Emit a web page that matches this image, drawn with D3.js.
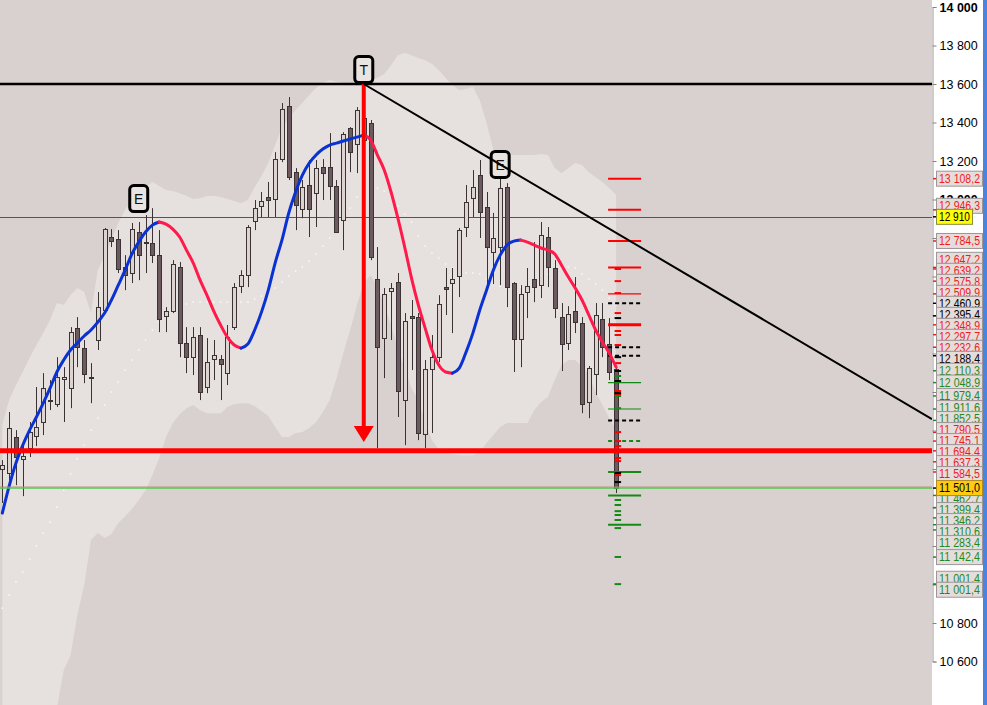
<!DOCTYPE html>
<html><head><meta charset="utf-8">
<script src="https://cdn.jsdelivr.net/npm/d3@7/dist/d3.min.js"></script>
<style>
body{margin:0;background:#fff;}
svg{display:block;font-family:"Liberation Sans",Arial,sans-serif;}
</style>
</head><body>
<svg id="chart" width="987" height="705"></svg>
<script>
// ---------------- DATA ----------------
const opens = [11600,11579,11766,11652,11709,11771,11844,11958,11937,12067,
12020,12332,12228,12078,12270,12425,12805,12794,12649,12618,
12831,12779,12774,12711,12394,12420,12649,12254,12181,12296,
12026,12171,12171,12098,12337,12550,12607,12888,12966,13013,
13002,13210,13485,13142,12950,13075,13033,13168,13168,13070,
12893,13371,13288,13309,13397,12587,12280,12524,12571,11958,
12394,12389,11782,12119,12181,12545,12566,12602,12857,13007,
13127,12961,12727,12753,13064,12566,12275,12519,12587,12555,
12805,12644,12389,12254,12420,12358,11948,12093,12379,12249,
12119];
const highs = [11646,11896,11802,11735,11844,12026,12098,12062,12181,12129,
12337,12389,12270,12150,12519,12852,12846,12841,12711,12878,
12883,12919,12955,12841,12441,12685,12675,12337,12337,12337,
12280,12270,12192,12348,12566,12633,12867,12997,13039,13091,
13246,13501,13532,13163,13101,13205,13205,13210,13345,13101,
13350,13376,13480,13491,13413,12753,12540,12566,12618,12410,
12478,12410,12166,12296,12503,12644,12644,12852,13075,13153,
13205,13039,12930,13168,13085,12571,12555,12644,12779,12883,
12857,12685,12462,12446,12597,12389,12135,12462,12462,12384,
12129];
const lows = [11423,11542,11516,11459,11662,11719,11776,11906,11922,11844,
11916,12129,12046,11942,12218,12415,12753,12618,12529,12566,
12581,12618,12670,12311,12311,12410,12181,12098,12088,11958,
11994,12062,11958,12036,12322,12514,12545,12841,12909,12909,
12909,13194,13101,12841,12903,12805,12857,12997,12997,12826,
12737,13142,13137,13257,12685,11709,12072,12270,11870,11724,
12114,11750,11709,11787,12155,12400,12306,12493,12805,12909,
12800,12545,12561,12555,12441,12104,12129,12384,12467,12488,
12545,12384,12109,12218,12306,11890,11864,11984,12181,12062,
11475];
const closes = [11620,11813,11662,11667,11792,11818,12020,11953,12078,12078,
12311,12233,12093,12072,12441,12846,12784,12639,12607,12846,
12711,12774,12711,12379,12420,12665,12254,12181,12285,12000,
12155,12192,12145,12285,12545,12607,12857,12955,12992,12997,
13210,13470,13116,12971,13064,12950,13163,13137,13070,12831,
13340,13246,13465,13423,12701,12233,12509,12540,12005,12368,
12384,11787,12119,12181,12457,12535,12587,12841,12987,13064,
12935,12753,12800,13059,12545,12275,12509,12550,12545,12815,
12649,12436,12249,12405,12363,11937,12124,12400,12233,12104,
11501];
const maValues = [11371,11511,11631,11724,11802,11870,11942,12020,12104,12166,
12218,12254,12291,12322,12363,12410,12478,12555,12633,12717,
12779,12831,12867,12883,12872,12846,12805,12737,12670,12581,
12503,12420,12348,12285,12244,12228,12249,12322,12415,12529,
12670,12789,12930,13039,13127,13189,13231,13262,13283,13293,
13304,13314,13324,13335,13309,13231,13153,13039,12903,12753,
12592,12452,12332,12218,12140,12104,12098,12124,12207,12306,
12425,12529,12633,12711,12763,12784,12789,12779,12763,12748,
12737,12717,12659,12597,12540,12478,12400,12322,12259,12202,
12129];
const bandUpper = [11828,11958,12036,12104,12176,12244,12306,12374,12462,12452,
12503,12540,12519,12410,12633,12711,12789,12878,12945,12997,
13039,13064,13091,13070,13049,13044,13033,13018,13002,13007,
13018,13018,13013,13002,12992,12981,12997,13064,13122,13189,
13283,13371,13423,13465,13501,13543,13579,13605,13620,13610,
13605,13600,13600,13600,13620,13631,13652,13698,13750,13761,
13750,13735,13724,13704,13672,13631,13594,13568,13574,13584,
13517,13397,13257,13236,13231,13231,13231,13231,13231,13236,
13231,13163,13137,13163,13189,13179,13142,13116,13091,13059,
13023];
const bandLower = [10090,10110,10140,10165,10190,10245,10295,10340,10360,10555,
10633,10841,10997,11231,11267,11241,11262,11319,11355,11392,
11439,11490,11568,11657,11766,11839,11885,11916,11932,11906,
11890,11890,11890,11922,11937,11942,11942,11927,11901,11875,
11818,11766,11766,11787,11792,11813,11844,11896,11958,12072,
12202,12322,12452,12566,12607,12545,12452,12348,12228,12124,
12020,11958,11844,11750,11703,11683,11678,11672,11672,11672,
11688,11735,11776,11818,11839,11839,11839,11839,11906,11948,
11974,12062,12140,12166,12166,12135,12088,12000,11932,11864,
11802];
const bandMiddle = [10877,10945,11013,11065,11132,11200,11267,11324,11402,11490,
11574,11652,11724,11802,11864,11932,12000,12052,12114,12166,
12218,12270,12322,12363,12400,12425,12441,12457,12467,12467,
12467,12467,12467,12467,12467,12467,12467,12483,12498,12519,
12540,12571,12602,12628,12649,12680,12717,12758,12800,12852,
12903,12955,13013,13059,13080,13059,13044,13018,12966,12924,
12883,12810,12758,12722,12696,12665,12644,12628,12618,12618,
12613,12587,12566,12550,12540,12535,12545,12545,12566,12592,
12613,12633,12644,12649,12644,12613,12587,12561,12529,12488,
12452];

const axisTicks = [14000,13800,13600,13400,13200,13000,12800,12600,12400,12200,12000,11800,11600,11400,11200,11000,10800,10600];
const boldTicks = [14000,13000];

const labelValues = [13108.2,12946.3,12910.0,12784.5,12647.2,12639.2,12575.8,12509.9,12460.9,12395.4,12348.9,12297.7,12232.6,12188.4,12110.3,12048.9,11979.4,11911.6,11852.5,11790.5,11745.1,11694.4,11637.3,11584.5,11501.0,11462.7,11399.4,11346.2,11310.6,11283.4,11142.4,11001.4,11001.4];
const labelKinds  = ['r','r','cur','r','r','r','r','r','k','k','r','r','r','k','g','g','g','g','g','r','r','r','r','r','last','g','g','g','g','g','g','g','g'];

const levelValues = [13108.2,12946.3,12784.5,12647.2,12509.9,12460.9,12348.9,12232.6,12188.4,12048.9,11911.6,11852.5,11745.1,11584.5,11462.7,11310.6];
const levelStyles = ['red','red','red','red','redThin','blackDash','redThick','blackDash','blackDash','greenThin','greenThin','blackDash','greenDash','green','green','green'];

const shortRed   = [12639,12576,12514,12410,12317,12296,12244,12150,12005,11989,11792,11745,11719,11657,11641,11568];
const shortBlack = [12384,12181,12109,12057,11994,11579,11532];
const shortGreen = [12083,11979,11916,11439,11413,11381,11361,11335,11293,11143,11002];

const resistance = 13600;      // black horizontal
const priceLine = 12910;       // thin gray line
const supportRed = 11694.4;    // thick red line
const lastPrice = 11501;       // green line
const trendPoints = [{i:53, v:13600}, {i:90, v:12827}];
const arrowBar = 53, arrowFrom = 13600, arrowTo = 11740;
const markers = [{i:20, v:13005, t:'E'}, {i:53, v:13675, t:'T'}, {i:73, v:13182, t:'E'}];

// ---------------- SETUP ----------------
const W = 987, H = 705, plotW = 932;
const svg = d3.select('#chart');
const n = opens.length;
const x = d3.scaleLinear().domain([0, n - 1]).range([2.33, 616.1]);
const y = d3.scaleLinear().domain([10600, 14000]).range([661.5, 7]);

const C = {bg:'#d9d1cf', band:'#e6e1df', up:'#ddd4d2', down:'#6c5a60', stroke:'#3b3234',
  red:'#ff0000', blue:'#0a32d2', maRed:'#ff1a4a', txtRed:'#f01c1c', txtGreen:'#1f8a1f'};

svg.append('defs').append('clipPath').attr('id','plot')
  .append('rect').attr('x',0).attr('y',0).attr('width',plotW).attr('height',H);

const g = svg.append('g').attr('clip-path','url(#plot)');
g.append('rect').attr('width',plotW).attr('height',H).attr('fill',C.bg);

// band
const idx = d3.range(n);
g.append('path').datum(idx)
  .attr('d', d3.area().x(i=>x(i)).y0(i=>y(bandLower[i])).y1(i=>y(bandUpper[i])))
  .attr('fill', C.band);
// middle dots
g.selectAll('rect.mid').data(idx).join('rect').attr('class','mid')
  .attr('x', i=>x(i)-0.75).attr('y', i=>y(bandMiddle[i])-0.75)
  .attr('width',1.5).attr('height',1.5).attr('fill','#ffffff').attr('opacity',0.8);

// thin price line
g.append('line').attr('x1',0).attr('x2',plotW)
  .attr('y1',Math.round(y(priceLine))+0.5).attr('y2',Math.round(y(priceLine))+0.5)
  .attr('stroke','#5a5252').attr('stroke-width',1);

// candles
const cg = g.append('g');
idx.forEach(i=>{
  const px = Math.round(x(i));
  const up = closes[i] >= opens[i];
  cg.append('line').attr('x1',px+0.5).attr('x2',px+0.5)
    .attr('y1',y(highs[i])).attr('y2',y(lows[i]))
    .attr('stroke',C.stroke).attr('stroke-width',1);
  const top = y(Math.max(opens[i],closes[i])), bot = y(Math.min(opens[i],closes[i]));
  cg.append('rect').attr('x',px-1.5).attr('y',Math.round(top)+0.5)
    .attr('width',4).attr('height',Math.max(1,Math.round(bot-top)))
    .attr('fill', up ? C.up : C.down).attr('stroke',C.stroke).attr('stroke-width',1);
});

// level marks near last bar
const lx0 = x(n-1) - 8, lx1 = x(n-1) + 25;
levelValues.forEach((v,k)=>{
  const s = levelStyles[k];
  const col = s.startsWith('red') ? '#ff0000' : s.startsWith('black') ? '#000000' : '#138a13';
  const w = s==='redThick' ? 3 : (s.endsWith('Thin') ? 1.2 : 2);
  g.append('line').attr('x1',lx0).attr('x2',lx1).attr('y1',y(v)).attr('y2',y(v))
    .attr('stroke',col).attr('stroke-width',w)
    .attr('stroke-dasharray', s.endsWith('Dash') ? '4,3' : null);
});
const sx0 = x(n-1) - 1.5, sx1 = x(n-1) + 5;
[[shortRed,'#ff0000'],[shortBlack,'#000000'],[shortGreen,'#138a13']].forEach(([arr,col])=>{
  arr.forEach(v=>{
    g.append('line').attr('x1',sx0).attr('x2',sx1).attr('y1',y(v)).attr('y2',y(v))
      .attr('stroke',col).attr('stroke-width',2);
  });
});

// moving average coloured by direction
const runs = [];
for (let i=0;i<n-1;i++){
  const upDir = maValues[i+1] >= maValues[i];
  if (runs.length && runs[runs.length-1].up===upDir) runs[runs.length-1].end = i+1;
  else runs.push({up:upDir, start:i, end:i+1});
}
const maLine = d3.line().x(i=>x(i)).y(i=>y(maValues[i])).curve(d3.curveMonotoneX);
runs.forEach(r=>{
  g.append('path').datum(d3.range(r.start, r.end+1)).attr('d',maLine)
    .attr('fill','none').attr('stroke', r.up ? C.blue : C.maRed)
    .attr('stroke-width',3).attr('stroke-linecap','round');
});

// horizontal lines
g.append('line').attr('x1',0).attr('x2',plotW).attr('y1',y(resistance)).attr('y2',y(resistance))
  .attr('stroke','#000').attr('stroke-width',2.5);
g.append('line').attr('x1',0).attr('x2',plotW).attr('y1',y(lastPrice)-1).attr('y2',y(lastPrice)-1)
  .attr('stroke','#b8877a').attr('stroke-width',1);
g.append('line').attr('x1',0).attr('x2',plotW).attr('y1',y(lastPrice)).attr('y2',y(lastPrice))
  .attr('stroke','#4ccc4c').attr('stroke-width',1.2);
g.append('line').attr('x1',0).attr('x2',plotW).attr('y1',y(supportRed)).attr('y2',y(supportRed))
  .attr('stroke',C.red).attr('stroke-width',5);

// arrow
const ax = x(arrowBar);
g.append('line').attr('x1',ax).attr('x2',ax).attr('y1',y(arrowFrom)).attr('y2',y(arrowTo)-12)
  .attr('stroke',C.red).attr('stroke-width',4);
g.append('path').attr('d',`M${ax-10},${y(arrowTo)-16} L${ax+10},${y(arrowTo)-16} L${ax},${y(arrowTo)} Z`)
  .attr('fill',C.red);

// markers
markers.forEach(m=>{
  const mx = x(m.i), my = y(m.v);
  g.append('rect').attr('x',mx-9).attr('y',my-13).attr('width',18).attr('height',26)
    .attr('rx',4).attr('fill','#e9e4e2').attr('stroke','#000').attr('stroke-width',3);
  g.append('text').attr('x',mx).attr('y',my).attr('dy','0.36em').attr('text-anchor','middle')
    .attr('font-size',14).attr('fill','#111').text(m.t);
});

// trend line (extended to plot edge)
const slope = (trendPoints[1].v - trendPoints[0].v)/(trendPoints[1].i - trendPoints[0].i);
const iEnd = x.invert(plotW);
g.append('line').attr('x1',x(trendPoints[0].i)).attr('y1',y(trendPoints[0].v))
  .attr('x2',plotW).attr('y2',y(trendPoints[0].v + slope*(iEnd - trendPoints[0].i)))
  .attr('stroke','#000').attr('stroke-width',2);

// ---------------- RIGHT PANEL ----------------
svg.append('rect').attr('x',plotW).attr('y',0).attr('width',W-plotW).attr('height',H).attr('fill','#ffffff');
svg.append('rect').attr('x',983).attr('y',0).attr('width',4).attr('height',H).attr('fill','#4a84de');

const fmtInt = v => d3.format(',')(v).replace(/,/g,' ');
const fmtDec = v => d3.format(',.1f')(v).replace(/,/g,' ').replace('.',',');

const axis = d3.axisRight(y).tickValues(axisTicks).tickSize(4).tickPadding(3).tickFormat(fmtInt);
const ag = svg.append('g').attr('transform',`translate(${plotW+0.5},0)`).call(axis);
ag.select('.domain').attr('stroke','#a09898');
ag.selectAll('.tick line').attr('stroke','#8a8282');
ag.selectAll('.tick text').attr('font-size',12.5).attr('fill','#000')
  .attr('font-family','"Liberation Sans",Arial,sans-serif')
  .attr('font-weight', d => boldTicks.includes(d) ? 'bold' : 'normal');

// label layout
const labels = labelValues.map((v,k)=>({v, kind:labelKinds[k], y0:y(v), y:y(v),
  fixed: labelKinds[k]==='cur' || labelKinds[k]==='last'}));
const gap = 11;
for (let it=0; it<300; it++){
  for (let k=1;k<labels.length;k++){
    const a = labels[k-1], b = labels[k];
    const d = b.y - a.y;
    if (d < gap){
      const ov = gap - d;
      if (a.fixed && !b.fixed) b.y += ov;
      else if (b.fixed && !a.fixed) a.y -= ov;
      else if (!a.fixed && !b.fixed){ a.y -= ov/2; b.y += ov/2; }
    }
  }
}
const colOf = k => k==='r' ? C.txtRed : k==='g' ? C.txtGreen : '#000';
// coloured axis ticks
labels.forEach(l=>{
  svg.append('line').attr('x1',plotW+1).attr('x2',plotW+5).attr('y1',l.y0).attr('y2',l.y0)
    .attr('stroke', (l.kind==='cur' || l.kind==='last') ? '#000' : colOf(l.kind)).attr('stroke-width',1.5);
});
const lg = svg.append('g');
const drawLabel = l=>{
  let fill = '#e5dddb', stroke = '#9e9696', w = 46, txt = fmtDec(l.v), tc = colOf(l.kind), tl = 41;
  if (l.kind==='cur'){ fill='#ffff00'; stroke='#8a8a40'; w=36; txt=fmtInt(l.v); tc='#000'; tl = 31; }
  if (l.kind==='last'){ fill='#ffcc11'; stroke='#b08a20'; tc='#000'; }
  lg.append('rect').attr('x',936.5).attr('y',l.y-7.5).attr('width',w).attr('height',15)
    .attr('fill',fill).attr('stroke',stroke).attr('stroke-width',1);
  lg.append('text').attr('x',939).attr('y',l.y).attr('dy','0.36em').attr('font-size',12)
    .attr('textLength',tl).attr('lengthAdjust','spacingAndGlyphs')
    .attr('fill',tc).text(txt);
};
labels.filter(l=>!l.fixed).forEach(drawLabel);
labels.filter(l=>l.fixed).forEach(drawLabel);
</script>
</body></html>
